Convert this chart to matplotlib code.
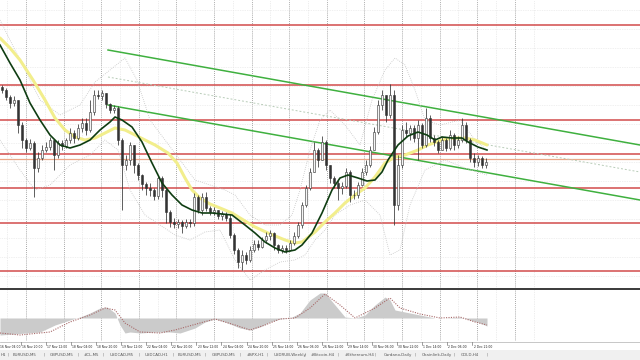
import numpy as np
import matplotlib.pyplot as plt
from matplotlib.patches import Rectangle
from matplotlib.lines import Line2D

# --- price candles (one bar = 4 px in the picture), open = previous close
first_open = 1.1383
close = [1.1380, 1.1373, 1.1367, 1.1370, 1.1345, 1.1330, 1.1322, 1.1327, 1.1302, 1.1312,
         1.1320, 1.1323, 1.1330, 1.1315, 1.1327, 1.1324, 1.1330, 1.1337, 1.1332, 1.1342,
         1.1347, 1.1340, 1.1358, 1.1375, 1.1374, 1.1377, 1.1366, 1.1360, 1.1362, 1.1330,
         1.1305, 1.1310, 1.1325, 1.1305, 1.1295, 1.1286, 1.1282, 1.1280, 1.1274, 1.1292,
         1.1280, 1.1258, 1.1248, 1.1246, 1.1248, 1.1244, 1.1248, 1.1247, 1.1273, 1.1260,
         1.1273, 1.1262, 1.1258, 1.1260, 1.1254, 1.1256, 1.1252, 1.1235, 1.1220, 1.1208,
         1.1215, 1.1210, 1.1220, 1.1226, 1.1223, 1.1230, 1.1234, 1.1237, 1.1225, 1.1220,
         1.1222, 1.1220, 1.1227, 1.1234, 1.1245, 1.1265, 1.1282, 1.1298, 1.1320, 1.1310,
         1.1328, 1.1305, 1.1292, 1.1287, 1.1282, 1.1284, 1.1298, 1.1275, 1.1275, 1.1285,
         1.1298, 1.1305, 1.1320, 1.1338, 1.1365, 1.1375, 1.1355, 1.1375, 1.1265, 1.1305,
         1.1340, 1.1337, 1.1342, 1.1332, 1.1345, 1.1325, 1.1352, 1.1332, 1.1328, 1.1320,
         1.1330, 1.1322, 1.1335, 1.1325, 1.1330, 1.1345, 1.1330, 1.1312, 1.1308, 1.1312,
         1.1305, 1.1308]
high = [1.1385, 1.1382, 1.1375, 1.1374, 1.1370, 1.1348, 1.1332, 1.1331, 1.1329, 1.1318,
        1.1325, 1.1328, 1.1333, 1.1330, 1.1330, 1.1330, 1.1332, 1.1342, 1.1340, 1.1346,
        1.1352, 1.1352, 1.1370, 1.1380, 1.1380, 1.1380, 1.1377, 1.1367, 1.1365, 1.1364,
        1.1332, 1.1315, 1.1328, 1.1325, 1.1307, 1.1296, 1.1288, 1.1287, 1.1282, 1.1295,
        1.1294, 1.1282, 1.1260, 1.1252, 1.1251, 1.1250, 1.1251, 1.1251, 1.1277, 1.1275,
        1.1277, 1.1278, 1.1264, 1.1263, 1.1260, 1.1259, 1.1258, 1.1256, 1.1237, 1.1222,
        1.1220, 1.1218, 1.1224, 1.1230, 1.1230, 1.1233, 1.1238, 1.1240, 1.1238, 1.1226,
        1.1225, 1.1225, 1.1230, 1.1238, 1.1248, 1.1268, 1.1285, 1.1302, 1.1328, 1.1322,
        1.1334, 1.1330, 1.1305, 1.1294, 1.1290, 1.1288, 1.1302, 1.1300, 1.1280, 1.1288,
        1.1302, 1.1310, 1.1324, 1.1343, 1.1370, 1.1380, 1.1375, 1.1386, 1.1380, 1.1315,
        1.1345, 1.1348, 1.1345, 1.1345, 1.1350, 1.1347, 1.1362, 1.1355, 1.1335, 1.1330,
        1.1333, 1.1332, 1.1340, 1.1337, 1.1334, 1.1352, 1.1348, 1.1332, 1.1317, 1.1315,
        1.1314, 1.1312]
low = [1.1377, 1.1370, 1.1362, 1.1364, 1.1337, 1.1322, 1.1318, 1.1320, 1.1273, 1.1298,
       1.1310, 1.1318, 1.1320, 1.1300, 1.1312, 1.1320, 1.1322, 1.1327, 1.1327, 1.1330,
       1.1338, 1.1335, 1.1338, 1.1355, 1.1371, 1.1370, 1.1362, 1.1357, 1.1357, 1.1325,
       1.1260, 1.1300, 1.1305, 1.1297, 1.1290, 1.1280, 1.1275, 1.1274, 1.1270, 1.1271,
       1.1273, 1.1247, 1.1243, 1.1242, 1.1242, 1.1237, 1.1242, 1.1243, 1.1244, 1.1257,
       1.1255, 1.1259, 1.1255, 1.1255, 1.1251, 1.1250, 1.1249, 1.1232, 1.1216, 1.1202,
       1.1200, 1.1206, 1.1208, 1.1218, 1.1220, 1.1222, 1.1227, 1.1230, 1.1220, 1.1217,
       1.1217, 1.1217, 1.1219, 1.1225, 1.1232, 1.1242, 1.1263, 1.1280, 1.1298, 1.1303,
       1.1310, 1.1300, 1.1287, 1.1282, 1.1270, 1.1276, 1.1282, 1.1268, 1.1271, 1.1272,
       1.1284, 1.1295, 1.1303, 1.1320, 1.1336, 1.1360, 1.1348, 1.1352, 1.1245, 1.1260,
       1.1302, 1.1333, 1.1330, 1.1328, 1.1310, 1.1322, 1.1323, 1.1328, 1.1324, 1.1317,
       1.1320, 1.1319, 1.1320, 1.1320, 1.1322, 1.1328, 1.1327, 1.1308, 1.1303, 1.1304,
       1.1302, 1.1302]

# --- moving averages (bar position, price)
ma_fast_x = [-0.5, 2, 4.5, 7, 9.5, 12, 14.5, 17, 19.5, 22, 24.5, 27, 28.25, 30, 32.5, 35,
             37.5, 40, 42.5, 45, 47.5, 50, 52.5, 55, 57.5, 60.75, 63.25, 65.75, 68.25,
             70.75, 73.25, 75, 77.5, 80, 82.5, 84.5, 86.5, 89, 91.25, 93.25, 95, 96.5, 99,
             101.5, 104, 106.25, 108.25, 110, 112.5, 115, 116.5, 119, 121.25]
ma_fast = [1.1425, 1.1407, 1.1390, 1.1367, 1.1350, 1.1335, 1.1325, 1.1322, 1.1325, 1.1330,
           1.1340, 1.1348, 1.1353, 1.1350, 1.1343, 1.1328, 1.1307, 1.1287, 1.1275, 1.1265,
           1.1260, 1.1257, 1.1257, 1.1256, 1.1255, 1.1245, 1.1237, 1.1228, 1.1222, 1.1218,
           1.1220, 1.1225, 1.1237, 1.1257, 1.1280, 1.1292, 1.1295, 1.1292, 1.1289, 1.1290,
           1.1298, 1.1310, 1.1325, 1.1334, 1.1338, 1.1335, 1.1330, 1.1333, 1.1332, 1.1332,
           1.1328, 1.1323, 1.1320]
ma_slow_x = [-0.5, 2, 4.5, 7.75, 10.75, 13.25, 15.75, 18.25, 20.75, 23.25, 25.75, 28.25,
             30.75, 33.25, 35.75, 38.25, 41.5, 43.75, 45.75, 47.5, 49.5, 52, 54.5, 57.5,
             60.75, 63.25, 66.5, 70.75, 73.25, 75, 78.25, 80.75, 83.25, 85.75, 88.25, 90.75,
             93.25, 95.75, 98.25, 100.75, 104, 106.5, 110, 113.25, 115.75, 118.25, 121.25]
ma_slow = [1.1432, 1.1422, 1.1410, 1.1390, 1.1370, 1.1352, 1.1340, 1.1333, 1.1330, 1.1332,
           1.1337, 1.1342, 1.1340, 1.1335, 1.1330, 1.1325, 1.1317, 1.1307, 1.1292, 1.1280,
           1.1272, 1.1266, 1.1262, 1.1257, 1.1249, 1.1243, 1.1237, 1.1230, 1.1227, 1.1228,
           1.1238, 1.1248, 1.1257, 1.1267, 1.1275, 1.1282, 1.1293, 1.1307, 1.1313, 1.1315,
           1.1320, 1.1325, 1.1330, 1.1332, 1.1332, 1.1330, 1.1325]

# --- bollinger envelope (faint)
bb_up_x = [-0.5, 4.5, 9.5, 14.5, 19.5, 23.25, 27, 30.75, 33.75, 37, 40.75, 44.5, 48.25, 52,
           55.75, 58.25, 62, 65.75, 69.5, 72.5, 74.5, 77, 79.5, 82, 85.75, 89.5, 92.5, 95.75,
           98.25, 100.75, 103.25, 105.75, 109.5, 114.5, 118.25, 121.25]
bb_up = [1.1450, 1.1410, 1.1370, 1.1355, 1.1365, 1.1388, 1.1400, 1.1412, 1.1390, 1.1350,
         1.1330, 1.1310, 1.1290, 1.1285, 1.1280, 1.1275, 1.1255, 1.1245, 1.1245, 1.1255,
         1.1280, 1.1320, 1.1350, 1.1360, 1.1345, 1.1325, 1.1370, 1.1400, 1.1412, 1.1405,
         1.1380, 1.1350, 1.1345, 1.1350, 1.1330, 1.1320]
bb_dn_x = [-0.5, 4.5, 8.25, 12, 17, 22, 25.75, 29, 32, 35.75, 39.5, 43.25, 47, 50.75, 54.5,
           58.25, 62, 65.75, 69.5, 73.25, 75.75, 78.25, 80.75, 83.25, 87, 90.75, 94.5, 97,
           99.5, 102, 105.75, 110.75, 115.75, 121.25]
bb_dn = [1.1330, 1.1300, 1.1280, 1.1285, 1.1305, 1.1315, 1.1330, 1.1320, 1.1280, 1.1255,
         1.1245, 1.1235, 1.1230, 1.1238, 1.1240, 1.1210, 1.1190, 1.1200, 1.1208, 1.1210,
         1.1215, 1.1230, 1.1240, 1.1255, 1.1265, 1.1270, 1.1255, 1.1215, 1.1220, 1.1265,
         1.1300, 1.1310, 1.1302, 1.1295]

# --- horizontal levels and channel
levels = [1.1445, 1.1385, 1.1350, 1.1316, 1.1282, 1.1247, 1.1199]
level_orange = 1.1311
channel_x = [26.5, 159.5]
channel_top = [1.1420, 1.1325]
channel_mid = [1.1393, 1.1298]
channel_bot = [1.1365, 1.1270]

# --- oscillator panel
osc_x = [-0.5, 9.5, 13.25, 17, 19.5, 22, 24.5, 26.25, 28.25, 29.5, 30.75, 32, 34.5, 38.25,
         42, 44.5, 48.25, 50.75, 53.25, 55.75, 59.5, 62, 64.5, 67, 69.5, 72, 74.5, 77, 79.5,
         80.75, 83.25, 85.75, 88.25, 90.75, 93.25, 95.75, 97, 98.25, 100.75, 104.5, 108.25,
         110.75, 114.5, 117, 119.5, 121.25]
osc_hist = [-8.5, -7, -3.5, -1, 0.5, 2.5, 5, 5.5, 2.5, -3.5, -7.5, -7, -7.5, -7, -7, -7.5,
            -5, -2, -0.5, -2, -5, -6, -4.5, -2, -0.5, 0, 2.5, 9, 12.5, 12.5, 6.5, 0.5, 0, 1.5,
            6.5, 10.5, 9, 4, 3, 1.5, 0, 0, 0.5, -1, -2.5, -4]
sig_x = [-0.5, 4.5, 12, 17, 22, 25.75, 28.25, 30.75, 34.5, 39.5, 43.25, 49.5, 53.25, 58.25,
         62, 65.75, 69.5, 73.25, 77, 80.75, 84.5, 88.25, 93.25, 97, 99.5, 104.5, 109.5,
         114.5, 118.25, 121.25]
sig = [-7.5, -8.5, -7, -2, 1.5, 5, 4, -2.5, -7, -7.5, -6, -2.5, -0.5, -3.5, -6, -3.5, -0.5,
       0, 5, 12, 6.5, 0, 5, 10, 5, 2, 0, 0.5, -2, -3.5]

time_labels = ['16 Nov 04:00', '16 Nov 20:00', '17 Nov 12:00', '18 Nov 04:00', '18 Nov 20:00',
               '19 Nov 12:00', '22 Nov 04:00', '22 Nov 20:00', '23 Nov 12:00', '24 Nov 04:00',
               '24 Nov 20:00', '25 Nov 14:00', '26 Nov 06:00', '26 Nov 22:00', '29 Nov 14:00',
               '30 Nov 06:00', '30 Nov 22:00', '1 Dec 14:00', '2 Dec 06:00', '2 Dec 21:00']
tabs = ['H1', 'EURUSD,M5', 'GBPUSD,M5', '#CL,M5', 'USDCAD,M5', 'USDCAD,H1', 'EURUSD,M5',
        'GBPUSD,M5', '#SPX,H1', 'USDRUB,Weekly', '#Bitcoin,H4', '#Ethereum,H4',
        'Cardano,Daily', 'Chainlink,Daily', 'GOLD,H4']
tab_px = [0, 12, 49, 83, 109, 144, 177, 211, 246, 273, 310, 344, 383, 421, 460]

W, H = 640, 360


def bar_of(px):
    return px / 4 - 0.5


def price_of(py):
    return 1.1 + (470 - py) / 1e4


fig = plt.figure(figsize=(6.4, 3.6), dpi=100)
fig.patch.set_facecolor('white')

ax = fig.add_axes([0, 1 - 288 / H, 1, 288 / H])
osc = fig.add_axes([0, 1 - 341 / H, 1, 51 / H])
for a in (ax, osc):
    a.set_xlim(-0.5, 159.5)
    a.set_axis_off()
ax.set_ylim(price_of(288), price_of(0))
osc.set_ylim(-11.5, 14)

# grid
for k in range(14):
    px = 26 + 37.6 * k
    for a in (ax, osc):
        a.axvline(bar_of(px), color='#8a8a8a', lw=0.6, ls=(0, (1, 1.5)), zorder=0)
        a.axvline(bar_of(px + 18.8), color='#dedede', lw=0.5, ls=(0, (1, 1.5)), zorder=0)
for a in (ax, osc):
    a.axvline(bar_of(7), color='#dedede', lw=0.5, ls=(0, (1, 1.5)), zorder=0)
for py in np.arange(10, 288, 19):
    ax.axhline(price_of(py), color='#e2e2e2', lw=0.5, ls=(0, (1, 1.5)), zorder=0)

# levels
for lv in levels:
    ax.axhline(lv, color='#d24b4b', lw=1.1, zorder=1)
ax.axhline(level_orange, color='#eaa98a', lw=0.9, zorder=1)

# channel
ax.plot(channel_x, channel_top, color='#3fb03f', lw=1.1, zorder=2)
ax.plot(channel_x, channel_bot, color='#3fb03f', lw=1.1, zorder=2)
ax.plot(channel_x, channel_mid, color='#b8ccb8', lw=0.7, ls=(0, (2, 2)), zorder=2)

# bollinger
ax.plot(bb_up_x, bb_up, color='#c4c4c4', lw=0.6, ls=(0, (1, 1.5)), zorder=2)
ax.plot(bb_dn_x, bb_dn, color='#c4c4c4', lw=0.6, ls=(0, (1, 1.5)), zorder=2)

# moving averages
ax.plot(ma_slow_x, ma_slow, color='#f2ee8c', lw=2.2, solid_capstyle='round', zorder=3)

# candles
c = np.array(close)
o = np.array([first_open] + close[:-1])
hi = np.array(high)
lo = np.array(low)
x = np.arange(len(c))
up = c >= o
ax.vlines(x, lo, hi, color='#333333', lw=0.55, zorder=4)
ax.bar(x[up], (c - o)[up], bottom=o[up], width=0.55, color='#f4f4f4',
       edgecolor='#333333', lw=0.4, zorder=5)
ax.bar(x[~up], (o - c)[~up], bottom=c[~up], width=0.55, color='#333333',
       edgecolor='#333333', lw=0.4, zorder=5)

ax.plot(ma_fast_x, ma_fast, color='#0f3d12', lw=1.2, zorder=6)

# oscillator
osc.fill_between(osc_x, 0, osc_hist, color='#cbcbcb', lw=0, zorder=1)
osc.plot(sig_x, sig, color='#a86a6a', lw=0.8, ls=(0, (1, 1.2)), zorder=2)

# separators
fig.add_artist(Line2D([0, 1], [1 - 289 / H] * 2, color='#3a3a3a', lw=1.4))
fig.add_artist(Line2D([0, 1], [1 - 342 / H] * 2, color='#b0b0b0', lw=0.5))

# time axis
for k, lab in enumerate(time_labels):
    px = -4.5 + 25.1 * k
    fig.add_artist(Line2D([px / W] * 2, [1 - 342 / H, 1 - 345 / H], color='#555555', lw=0.4))
    fig.text(max(px + 1.2, 0.5) / W, 1 - 347 / H, lab, fontsize=2.2, color='#222222',
             ha='left', va='center')

# tab bar
fig.add_artist(Rectangle((0, 0), 1, 10 / H, transform=fig.transFigure,
                         facecolor='#f0f0f0', edgecolor='none'))
for name, px in zip(tabs, tab_px):
    fig.text((px + 1) / W, 1 - 355 / H, name, fontsize=2.9, color='#555555',
             ha='left', va='center')
for px in [8, 44, 78, 103, 139, 173, 205, 240, 267, 305, 338, 375, 415, 454, 487]:
    fig.text(px / W, 1 - 355 / H, '|', fontsize=2.9, color='#777777', ha='center', va='center')

fig.savefig('out.png', dpi=100)
